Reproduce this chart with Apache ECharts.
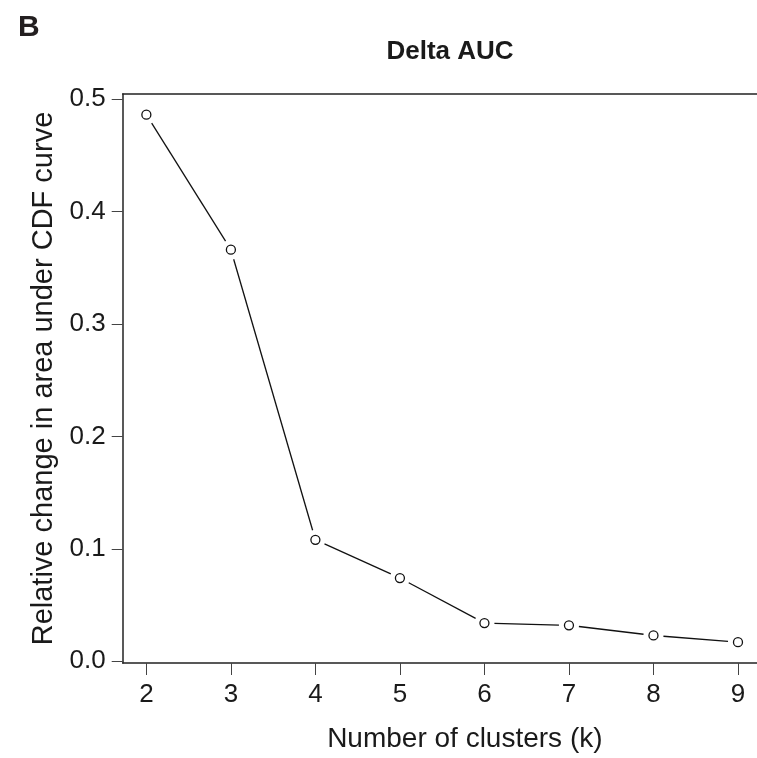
<!DOCTYPE html>
<html>
<head>
<meta charset="utf-8">
<script src="https://cdn.jsdelivr.net/npm/echarts@6/dist/echarts.min.js"></script>
<style>html,body{margin:0;padding:0;background:#fff}#c{width:757px;height:758px}</style>
</head>
<body>
<div id="c"></div>
<script>
// Data
var clusters = [2, 3, 4, 5, 6, 7, 8, 9];
var deltaAUC = [0.486, 0.366, 0.108, 0.074, 0.034, 0.032, 0.023, 0.017];
var xTicks = [2, 3, 4, 5, 6, 7, 8, 9];
var yTicks = [0, 0.1, 0.2, 0.3, 0.4, 0.5];

var pts = clusters.map(function (k, i) { return [k, deltaAUC[i]]; });
// segments between consecutive points (type "b" style: line with gaps at points)
var segs = [];
for (var i = 0; i < pts.length - 1; i++) {
  segs.push([pts[i][0], pts[i][1], pts[i + 1][0], pts[i + 1][1]]);
}
var FONT = '"Liberation Sans", Arial, Helvetica, sans-serif';
var INK = '#1a1a1a';
var GAP = 10;

var chart = echarts.init(document.getElementById('c'), null, {renderer: 'canvas'});
chart.setOption({
  backgroundColor: '#ffffff',
  animation: false,
  title: [
    {text: 'B', left: 13, top: 8, textStyle: {fontFamily: FONT, fontSize: 30, fontWeight: 'bold', color: '#231f20'}},
    {text: 'Delta AUC', left: 445, top: 34, textAlign: 'center', textStyle: {fontFamily: FONT, fontSize: 26, fontWeight: 'bold', color: INK}}
  ],
  grid: {left: 122.7, right: 0, top: 94, bottom: 91.3, containLabel: false},
  xAxis: [
    {
      type: 'value', min: 1.72, max: 9.225, position: 'bottom',
      name: 'Number of clusters (k)', nameLocation: 'middle', nameGap: 62,
      nameTextStyle: {fontFamily: FONT, fontSize: 28, color: INK, padding: [0, 0, 0, 50]},
      splitLine: {show: false},
      axisLine: {show: true, onZero: false, lineStyle: {color: '#222', width: 1.5}},
      axisTick: {show: true, length: 12, customValues: xTicks, lineStyle: {color: '#444', width: 1}},
      axisLabel: {customValues: xTicks, margin: 19, fontFamily: FONT, fontSize: 26, color: INK}
    },
    {
      type: 'value', min: 1.72, max: 9.225, position: 'top',
      splitLine: {show: false},
      axisLine: {show: true, onZero: false, lineStyle: {color: '#222', width: 1.5}},
      axisTick: {show: false}, axisLabel: {show: false}
    }
  ],
  yAxis: {
    type: 'value', min: -0.0015, max: 0.5044,
    name: 'Relative change in area under CDF curve', nameLocation: 'middle', nameGap: 57,
    nameTextStyle: {fontFamily: FONT, fontSize: 29, color: INK},
    splitLine: {show: false},
    axisLine: {show: true, onZero: false, lineStyle: {color: '#222', width: 1.5}},
    axisTick: {show: true, length: 11, customValues: yTicks, lineStyle: {color: '#444', width: 1}},
    axisLabel: {customValues: yTicks, margin: 17, fontFamily: FONT, fontSize: 26, color: INK,
      formatter: function (v) { return v.toFixed(1); }}
  },
  series: [
    {
      type: 'custom', data: segs, z: 2, silent: true,
      encode: {x: [0, 2], y: [1, 3]},
      renderItem: function (params, api) {
        var a = api.coord([api.value(0), api.value(1)]);
        var b = api.coord([api.value(2), api.value(3)]);
        var dx = b[0] - a[0], dy = b[1] - a[1];
        var len = Math.sqrt(dx * dx + dy * dy);
        if (len <= 2 * GAP) return null;
        var ux = dx / len, uy = dy / len;
        return {
          type: 'line',
          shape: {x1: a[0] + ux * GAP, y1: a[1] + uy * GAP, x2: b[0] - ux * GAP, y2: b[1] - uy * GAP},
          style: {stroke: '#111', lineWidth: 1.3}
        };
      }
    },
    {
      type: 'scatter', data: pts, symbol: 'circle', symbolSize: 9, z: 5,
      itemStyle: {color: '#ffffff', borderColor: '#111', borderWidth: 1.3, opacity: 1}
    }
  ]
});
</script>
</body>
</html>
